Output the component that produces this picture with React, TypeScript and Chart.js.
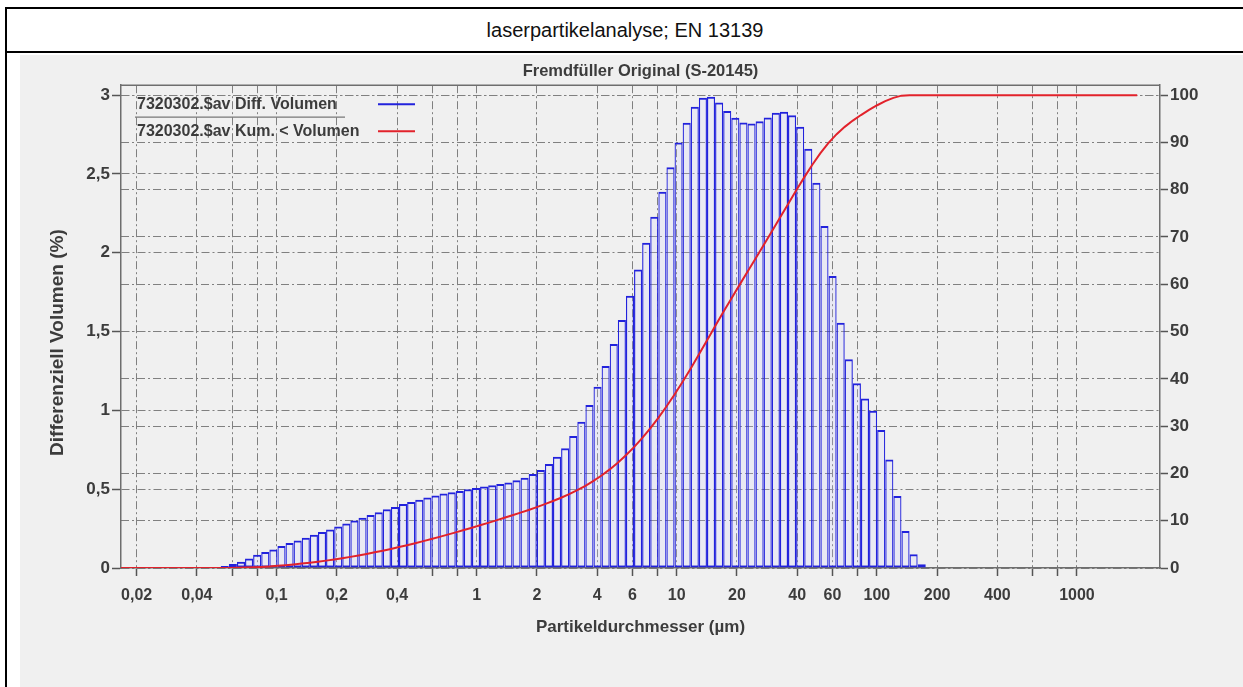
import React, { useEffect, useRef } from "react";
import { Chart, registerables } from "chart.js";

Chart.register(...registerables);

const FONT = '"Liberation Sans", Arial, Helvetica, sans-serif';

const pageTitle = "laserpartikelanalyse; EN 13139";
const chartTitle = "Fremdfüller Original (S-20145)";
const xAxisTitle = "Partikeldurchmesser (µm)";
const yAxisTitle = "Differenziell Volumen (%)";
const legendLabels = ["7320302.$av Diff. Volumen", "7320302.$av Kum. < Volumen"];

// size class edges (µm) of the histogram
const classEdges = [
  0.04365, 0.04791, 0.0526, 0.05773, 0.06339, 0.0696, 0.07638, 0.08384, 0.09204, 0.10104,
  0.11092, 0.12176, 0.13366, 0.14672, 0.16106, 0.17679, 0.19409, 0.21306, 0.23388, 0.25674,
  0.28184, 0.30938, 0.33963, 0.37281, 0.40926, 0.44926, 0.49317, 0.54137, 0.59429, 0.65239,
  0.71614, 0.78614, 0.86298, 0.94732, 1.03992, 1.14156, 1.25314, 1.37563, 1.51008, 1.65768,
  1.8197, 1.99756, 2.1928, 2.40714, 2.64241, 2.90068, 3.1842, 3.49541, 3.83707, 4.2121,
  4.62381, 5.07575, 5.57186, 6.11646, 6.71429, 7.37055, 8.09096, 8.88178, 9.7499, 10.7029,
  11.749, 12.8974, 14.1579, 15.5417, 17.0608, 18.7284, 20.5589, 22.5683, 24.7742, 27.1957,
  29.8538, 32.7718, 35.9749, 39.4911, 43.3511, 47.5882, 52.2396, 57.3456, 62.9506, 69.1035,
  75.8578, 83.2722, 91.4113, 100.346, 110.154, 120.921, 132.739, 145.713, 159.955, 175.589,
];

// differential volume (%) per class
const diffVolume = [
  0.003, 0.007, 0.013, 0.025, 0.04, 0.06, 0.084, 0.101, 0.118, 0.14,
  0.159, 0.175, 0.192, 0.211, 0.228, 0.245, 0.264, 0.283, 0.302, 0.319,
  0.336, 0.353, 0.372, 0.387, 0.406, 0.419, 0.433, 0.447, 0.46, 0.472,
  0.48, 0.489, 0.499, 0.508, 0.517, 0.525, 0.533, 0.543, 0.557, 0.573,
  0.596, 0.622, 0.66, 0.706, 0.759, 0.837, 0.928, 1.034, 1.15, 1.281,
  1.421, 1.573, 1.727, 1.894, 2.063, 2.228, 2.387, 2.543, 2.7, 2.824,
  2.926, 2.983, 2.989, 2.953, 2.9, 2.856, 2.826, 2.82, 2.835, 2.858,
  2.888, 2.894, 2.873, 2.799, 2.66, 2.444, 2.169, 1.852, 1.556, 1.324,
  1.172, 1.076, 0.998, 0.875, 0.689, 0.457, 0.235, 0.087, 0.024,
];

// cumulative volume (%) at the upper edge of each class
const cumVolume = [
  0.0, 0.01, 0.02, 0.05, 0.09, 0.15, 0.23, 0.34, 0.45, 0.59,
  0.75, 0.93, 1.12, 1.33, 1.56, 1.8, 2.07, 2.35, 2.65, 2.97,
  3.31, 3.66, 4.03, 4.42, 4.83, 5.24, 5.68, 6.12, 6.58, 7.06,
  7.54, 8.03, 8.52, 9.03, 9.55, 10.07, 10.61, 11.15, 11.71, 12.28,
  12.88, 13.5, 14.16, 14.86, 15.62, 16.46, 17.39, 18.42, 19.57, 20.85,
  22.27, 23.85, 25.57, 27.47, 29.53, 31.76, 34.15, 36.69, 39.39, 42.21,
  45.14, 48.12, 51.11, 54.06, 56.96, 59.82, 62.65, 65.47, 68.3, 71.16,
  74.05, 76.94, 79.81, 82.61, 85.27, 87.72, 89.89, 91.74, 93.29, 94.62,
  95.79, 96.87, 97.86, 98.74, 99.43, 99.89, 100, 100, 100,
];
const cumLineStart = 0.0167;
const cumLineEnd = 2000;

const xMin = 0.0167;
const xMax = 2600;
const xTicks = [0.02, 0.04, 0.06, 0.08, 0.1, 0.2, 0.4, 0.6, 0.8, 1, 2, 4, 6, 8, 10, 20, 40, 60, 80, 100, 200, 400, 600, 800, 1000];
const xLabelled = [0.02, 0.04, 0.1, 0.2, 0.4, 1, 2, 4, 6, 10, 20, 40, 60, 100, 200, 400, 1000];
const yLeftTicks = [0, 0.5, 1, 1.5, 2, 2.5, 3];
const yLeftMax = 3.063;
const yRightTicks = [0, 10, 20, 30, 40, 50, 60, 70, 80, 90, 100];
const yRightMax = 102.1;

const TEXT = "#3c3c3c";
const GRID = "#808080";
const AXIS = "#6e6e6e";
const BLUE = "#2222dc";
const RED = "#e2222b";
const DASH = [8, 3, 2, 3];

const fmt = (v: number) => String(v).replace(".", ",");

const framePlugin = {
  id: "frameTop",
  afterDatasetsDraw(chart: any) {
    const { ctx, chartArea } = chart;
    ctx.save();
    ctx.strokeStyle = AXIS;
    ctx.lineWidth = 1.5;
    ctx.beginPath();
    ctx.moveTo(chartArea.left, chartArea.top);
    ctx.lineTo(chartArea.right, chartArea.top);
    ctx.stroke();
    ctx.restore();
  },
};

const yTitlePlugin = {
  id: "yTitle",
  afterDraw(chart: any) {
    const { ctx, chartArea } = chart;
    ctx.save();
    ctx.translate(chart.scales.y.left + 38, (chartArea.top + chartArea.bottom) / 2 + 16);
    ctx.rotate(-Math.PI / 2);
    ctx.font = `bold 19px ${FONT}`;
    ctx.fillStyle = TEXT;
    ctx.textAlign = "center";
    ctx.textBaseline = "middle";
    ctx.fillText(yAxisTitle, 0, 0);
    ctx.restore();
  },
};

const legendPlugin = {
  id: "innerLegend",
  afterDraw(chart: any) {
    const { ctx, chartArea } = chart;
    const x0 = chartArea.left + 16;
    const y0 = chartArea.top + 19;
    const gap = 27;
    ctx.save();
    ctx.font = `bold 16px ${FONT}`;
    ctx.fillStyle = TEXT;
    ctx.textAlign = "left";
    ctx.textBaseline = "middle";
    ctx.fillText(legendLabels[0], x0, y0);
    ctx.fillText(legendLabels[1], x0, y0 + gap);
    ctx.strokeStyle = "#777";
    ctx.lineWidth = 1.2;
    ctx.beginPath();
    ctx.moveTo(x0 - 2, y0 + 13);
    ctx.lineTo(x0 + 208, y0 + 13);
    ctx.stroke();
    ctx.lineWidth = 2;
    ctx.strokeStyle = BLUE;
    ctx.beginPath();
    ctx.moveTo(x0 + 241, y0);
    ctx.lineTo(x0 + 278, y0);
    ctx.stroke();
    ctx.strokeStyle = RED;
    ctx.beginPath();
    ctx.moveTo(x0 + 241, y0 + gap);
    ctx.lineTo(x0 + 278, y0 + gap);
    ctx.stroke();
    ctx.restore();
  },
};

export default function App() {
  const ref = useRef<HTMLCanvasElement>(null);

  useEffect(() => {
    const canvas = ref.current;
    if (!canvas) return;
    const barData = diffVolume.map((v, i) => ({ x: Math.sqrt(classEdges[i] * classEdges[i + 1]), y: v }));
    const cumX = [cumLineStart, ...classEdges, cumLineEnd];
    const cumY = [0, 0, ...cumVolume, 100];
    const lineData = cumX.map((x, i) => ({ x, y: cumY[i] }));

    const xTickFont = { family: FONT, size: 16, weight: "bold" as const };
    const yTickFont = { family: FONT, size: 17, weight: "bold" as const };
    const titleFont = { family: FONT, size: 17, weight: "bold" as const };

    const chart = new Chart(canvas, {
      type: "bar",
      data: {
        datasets: [
          {
            type: "line",
            label: legendLabels[1],
            data: lineData,
            yAxisID: "y1",
            borderColor: RED,
            borderWidth: 2,
            pointRadius: 0,
            tension: 0,
            fill: false,
            order: 1,
          } as any,
          {
            type: "bar",
            label: legendLabels[0],
            data: barData,
            yAxisID: "y",
            backgroundColor: "rgba(205,205,255,0.2)",
            borderColor: BLUE,
            borderWidth: { top: 2, left: 1.2, right: 1.2, bottom: 2 },
            borderSkipped: false,
            barPercentage: 1,
            categoryPercentage: 1,
            inflateAmount: 0,
            order: 2,
          } as any,
        ],
      },
      options: {
        animation: false,
        responsive: false,
        maintainAspectRatio: false,
        layout: { padding: { left: 20, right: 0, top: 62, bottom: 49 } },
        plugins: {
          legend: { display: false },
          tooltip: { enabled: false },
          title: {
            display: true,
            text: chartTitle,
            fullSize: false,
            color: TEXT,
            font: { family: FONT, size: 16.5, weight: "bold" },
            padding: { top: 0, bottom: 3.4 },
          },
        },
        scales: {
          x: {
            type: "logarithmic",
            position: "bottom",
            min: xMin,
            max: xMax,
            offset: false,
            afterBuildTicks: (s: any) => {
              s.ticks = xTicks.map((v) => ({ value: v }));
            },
            afterFit: (s: any) => {
              s.height = 70;
            },
            ticks: {
              autoSkip: false,
              maxRotation: 0,
              minRotation: 0,
              padding: 10,
              color: TEXT,
              font: xTickFont,
              callback: (v: any) => (xLabelled.includes(Number(v)) ? fmt(Number(v)) : ""),
            },
            grid: { color: GRID, lineWidth: 1, offset: false, tickLength: 8, tickColor: "#555", tickWidth: 1.5 } as any,
            border: { color: AXIS, width: 1.5, dash: DASH },
            title: { display: true, text: xAxisTitle, color: TEXT, font: titleFont, padding: { top: 0, bottom: 0 } },
          } as any,
          y: {
            type: "linear",
            position: "left",
            min: 0,
            max: yLeftMax,
            afterBuildTicks: (s: any) => {
              s.ticks = yLeftTicks.map((v) => ({ value: v }));
            },
            afterFit: (s: any) => {
              s.width = 101;
            },
            ticks: { padding: 2, color: TEXT, font: yTickFont, callback: (v: any) => fmt(Number(v)) },
            grid: { color: GRID, lineWidth: 1, tickLength: 9, tickColor: "#555", tickWidth: 1.5 } as any,
            border: { color: AXIS, width: 1.5, dash: DASH },
            title: { display: false },
          } as any,
          y1: {
            type: "linear",
            position: "right",
            min: 0,
            max: yRightMax,
            afterBuildTicks: (s: any) => {
              s.ticks = yRightTicks.map((v) => ({ value: v }));
            },
            afterFit: (s: any) => {
              s.width = 83;
            },
            ticks: { padding: 2, color: TEXT, font: yTickFont, callback: (v: any) => String(v) },
            grid: { color: GRID, lineWidth: 1, tickLength: 8, tickColor: "#555", tickWidth: 1.5 } as any,
            border: { color: AXIS, width: 1.5, dash: DASH },
          } as any,
        },
      },
      plugins: [framePlugin, legendPlugin, yTitlePlugin],
    });
    return () => chart.destroy();
  }, []);

  return (
    <div
      style={{
        position: "absolute",
        left: 0,
        top: 0,
        width: 1243,
        height: 687,
        background: "#ffffff",
        overflow: "hidden",
        fontFamily: FONT,
      }}
    >
      <div style={{ position: "absolute", left: 5, top: 7, right: 0, height: 2, background: "#000" }} />
      <div style={{ position: "absolute", left: 5, top: 7, width: 2, bottom: 0, background: "#000" }} />
      <div style={{ position: "absolute", left: 5, top: 51, right: 0, height: 2, background: "#000" }} />
      <div
        style={{
          position: "absolute",
          left: 7,
          right: 0,
          top: 9,
          height: 42,
          display: "flex",
          alignItems: "center",
          justifyContent: "center",
          fontSize: 20,
          color: "#111",
        }}
      >
        {pageTitle}
      </div>
      <div style={{ position: "absolute", left: 20, top: 55, right: 0, bottom: 0, background: "#f0f0f0" }} />
      <canvas ref={ref} width={1243} height={687} style={{ position: "absolute", left: 0, top: 0, width: 1243, height: 687 }} />
    </div>
  );
}
